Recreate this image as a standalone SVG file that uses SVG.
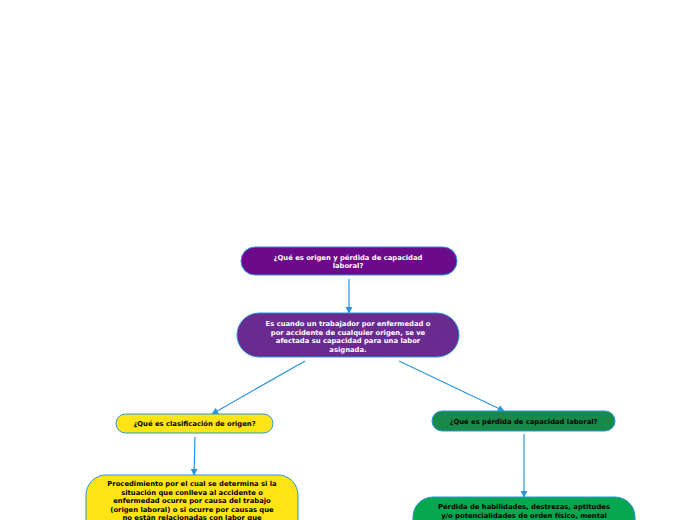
<svg xmlns="http://www.w3.org/2000/svg" width="696" height="520" viewBox="0 0 696 520">
<defs>
<marker id="ah" viewBox="0 0 10 10" refX="9" refY="5" markerWidth="7" markerHeight="7" orient="auto" markerUnits="userSpaceOnUse"><path d="M0,0 L10,5 L0,10 z" fill="#2b95dc"/></marker>
</defs>
<style>
.n{stroke:#2b95dc;stroke-width:1}
.t{font-family:"DejaVu Sans",Verdana,sans-serif;font-weight:bold;font-size:6.8px;text-anchor:middle}
.w{fill:#ffffff}
.k{fill:#000000}
.c{stroke:#2b95dc;stroke-width:1.2;fill:none;marker-end:url(#ah)}
</style>
<rect width="696" height="520" fill="#ffffff"/>
<g id="connectors">
<line class="c" x1="349" y1="279" x2="349" y2="313"/>
<line class="c" x1="305" y1="361" x2="212" y2="414"/>
<line class="c" x1="399" y1="361" x2="504" y2="411"/>
<line class="c" x1="195" y1="437" x2="194" y2="475"/>
<line class="c" x1="524" y1="434" x2="524" y2="497"/>
</g>
<g id="n1">
<rect class="n" x="241" y="247" width="216" height="28" rx="14" fill="#6b0a8a"/>
<text class="t w" x="348" y="260">¿Qué es origen y pérdida de capacidad</text>
<text class="t w" x="348" y="268">laboral?</text>
</g>
<g id="n2">
<rect class="n" x="237" y="313" width="222" height="44" rx="22" fill="#6a2b91"/>
<text class="t w" x="348" y="326">Es cuando un trabajador por enfermedad o</text>
<text class="t w" x="348" y="334.5">por accidente de cualquier origen, se ve</text>
<text class="t w" x="348" y="343">afectada su capacidad para una labor</text>
<text class="t w" x="348" y="351.5">asignada.</text>
</g>
<g id="n3">
<rect class="n" x="116" y="414" width="157" height="19" rx="9.5" fill="#ffe414"/>
<text class="t k" x="194.5" y="426">¿Qué es clasificación de origen?</text>
</g>
<g id="n4">
<rect class="n" x="432" y="411" width="183" height="20" rx="10" fill="#178a4b"/>
<text class="t k" x="523.5" y="423.5">¿Qué es pérdida de capacidad laboral?</text>
</g>
<g id="n5">
<rect class="n" x="86" y="475" width="212" height="70" rx="20" fill="#ffe414"/>
<text class="t k" x="192" y="486">Procedimiento por el cual se determina si la</text>
<text class="t k" x="192" y="494.5">situación que conlleva al accidente o</text>
<text class="t k" x="192" y="503">enfermedad ocurre por causa del trabajo</text>
<text class="t k" x="192" y="511.5">(origen laboral) o si ocurre por causas que</text>
<text class="t k" x="192" y="520">no están relacionadas con labor que</text>
</g>
<g id="n6">
<rect class="n" x="413" y="497" width="222" height="50" rx="20" fill="#05a84f"/>
<text class="t k" x="524" y="509">Pérdida de habilidades, destrezas, aptitudes</text>
<text class="t k" x="524" y="517.5">y/o potencialidades de orden físico, mental</text>
</g>
</svg>
